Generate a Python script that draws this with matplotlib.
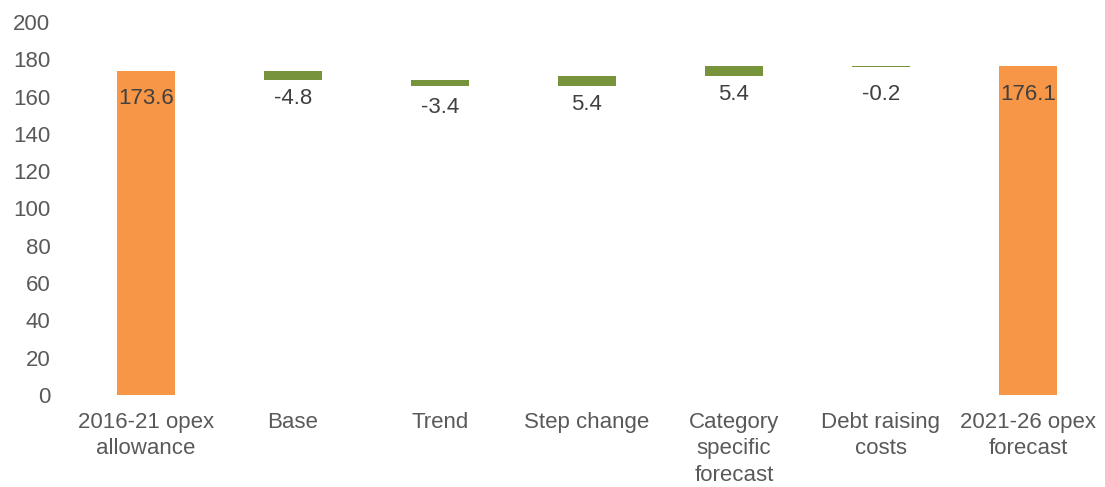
import numpy as np
import matplotlib
matplotlib.use("Agg")
import matplotlib.pyplot as plt

plt.rcParams["font.family"] = ["Liberation Sans", "DejaVu Sans"]

categories = [
    "2016-21 opex\nallowance",
    "Base",
    "Trend",
    "Step change",
    "Category\nspecific\nforecast",
    "Debt raising\ncosts",
    "2021-26 opex\nforecast",
]
start_total = 173.6
changes = [-4.8, -3.4, 5.4, 5.4, -0.2]
end_total = 176.1
labels = ["173.6", "-4.8", "-3.4", "5.4", "5.4", "-0.2", "176.1"]

ORANGE = "#F79646"
GREEN = "#77933C"

# running level for the floating bars
levels = start_total + np.concatenate([[0], np.cumsum(changes)])
bottoms = [0.0]
heights = [start_total]
colors = [ORANGE]
for i, c in enumerate(changes):
    bottoms.append(min(levels[i], levels[i + 1]))
    heights.append(abs(c))
    colors.append(GREEN)
bottoms.append(0.0)
heights.append(end_total)
colors.append(ORANGE)
tops = [b + h for b, h in zip(bottoms, heights)]

fig = plt.figure(figsize=(11.05, 4.87), dpi=100)
ax = fig.add_axes([0.0656, 0.189, 0.9312, 0.766])

x = np.arange(len(categories))
ax.bar(x, heights, bottom=bottoms, width=0.4, color=colors, linewidth=0)

for xi, top, lab in zip(x, tops, labels):
    ax.annotate(lab, (xi, top), xytext=(0, -20), textcoords="offset points",
                ha="center", va="center", fontsize=16, color="#404040")

ax.set_xlim(-0.5, len(categories) - 0.5)
ax.set_ylim(0, 200)
ax.set_yticks(range(0, 201, 20))
ax.set_xticks(x)
ax.set_xticklabels(categories, linespacing=1.36)
ax.tick_params(axis="y", length=0, pad=16, labelsize=16, labelcolor="#595959")
ax.tick_params(axis="x", length=0, pad=12, labelsize=16, labelcolor="#595959")
for s in ax.spines.values():
    s.set_visible(False)

fig.savefig("out.png", dpi=100)
